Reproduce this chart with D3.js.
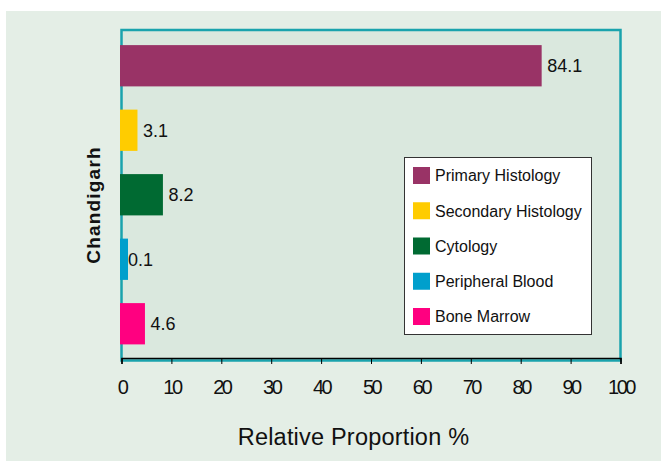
<!DOCTYPE html>
<html>
<head>
<meta charset="utf-8">
<script src="https://cdn.jsdelivr.net/npm/d3@7"></script>
<style>
html,body{margin:0;padding:0;background:#fff;}
svg{display:block;font-family:"Liberation Sans",Arial,sans-serif;}
</style>
</head>
<body>
<svg id="chart" width="661" height="461"></svg>
<script>
const categories = ["Primary Histology","Secondary Histology","Cytology","Peripheral Blood","Bone Marrow"];
const values = [84.1, 3.1, 8.2, 0.1, 4.6];
const colors = ["#993366","#ffcc00","#006a32","#009fcc","#ff0080"];
const xTicks = [0,10,20,30,40,50,60,70,80,90,100];
const yLabel = "Chandigarh";
const xLabel = "Relative Proportion %";

const svg = d3.select("#chart");
svg.append("rect").attr("x",6).attr("y",11).attr("width",655).attr("height",450).attr("fill","#e4eee6");

const pLeft = 121.5, pRight = 620.5, pTop = 30, pBottom = 359.5;
// plot area with teal frame
svg.append("rect").attr("x",pLeft).attr("y",pTop).attr("width",pRight-pLeft).attr("height",pBottom-pTop+1)
  .attr("fill","#dae8de").attr("stroke","#1aa3ad").attr("stroke-width",2.5);

const x = d3.scaleLinear().domain([0,100]).range([pLeft,pRight]);
const y = d3.scaleBand().domain(categories).range([33.5,356]).paddingInner(0.36).paddingOuter(0.18);

svg.append("g").selectAll("rect").data(categories).join("rect")
  .attr("x", x(0) - 1.5)
  .attr("y", d => y(d))
  .attr("height", y.bandwidth())
  .attr("width", (d,i) => Math.max(x(values[i]) - x(0), 6) + 2)
  .attr("fill", (d,i) => colors[i]);

svg.append("g").selectAll("text").data(categories).join("text")
  .attr("x", (d,i) => x(values[i]) + 6)
  .attr("y", d => y(d) + y.bandwidth()/2)
  .attr("dy","0.36em")
  .attr("font-size","18px")
  .attr("fill","#111")
  .text((d,i) => values[i].toFixed(1));

// x axis
const axis = d3.axisBottom(x).tickValues(xTicks).tickSize(6).tickPadding(16).tickFormat(d3.format("d"));
const gx = svg.append("g").attr("transform","translate(0,358)").call(axis);
gx.select(".domain").attr("stroke","#000").attr("stroke-width",1.5);
gx.selectAll(".tick line").attr("stroke","#000");
gx.selectAll(".tick text").attr("font-size","20px").attr("fill","#111")
  .attr("letter-spacing","-2.5px").attr("font-family","'Liberation Sans',Arial,sans-serif");

svg.append("text").attr("x",353.5).attr("y",445).attr("text-anchor","middle")
  .attr("font-size","23.5px").attr("letter-spacing","0.2px").attr("fill","#111").text(xLabel);

svg.append("text").attr("transform","translate(100,205) rotate(-90)").attr("text-anchor","middle")
  .attr("font-size","19px").attr("font-weight","bold").attr("letter-spacing","1.2px").attr("fill","#111").text(yLabel);

// legend
const lg = svg.append("g");
lg.append("rect").attr("x",404.5).attr("y",157.5).attr("width",187).attr("height",177)
  .attr("fill","#fff").attr("stroke","#333").attr("stroke-width",1);
const rowY = d3.scaleBand().domain(categories).range([167,343.25]);
lg.selectAll("rect.sw").data(categories).join("rect").attr("class","sw")
  .attr("x",413).attr("y",d => rowY(d)).attr("width",17).attr("height",17)
  .attr("fill",(d,i) => colors[i]);
lg.selectAll("text").data(categories).join("text")
  .attr("x",435).attr("y",d => rowY(d) + 8.5).attr("dy","0.36em")
  .attr("font-size","16px").attr("fill","#111").text(d => d);
</script>
</body>
</html>
